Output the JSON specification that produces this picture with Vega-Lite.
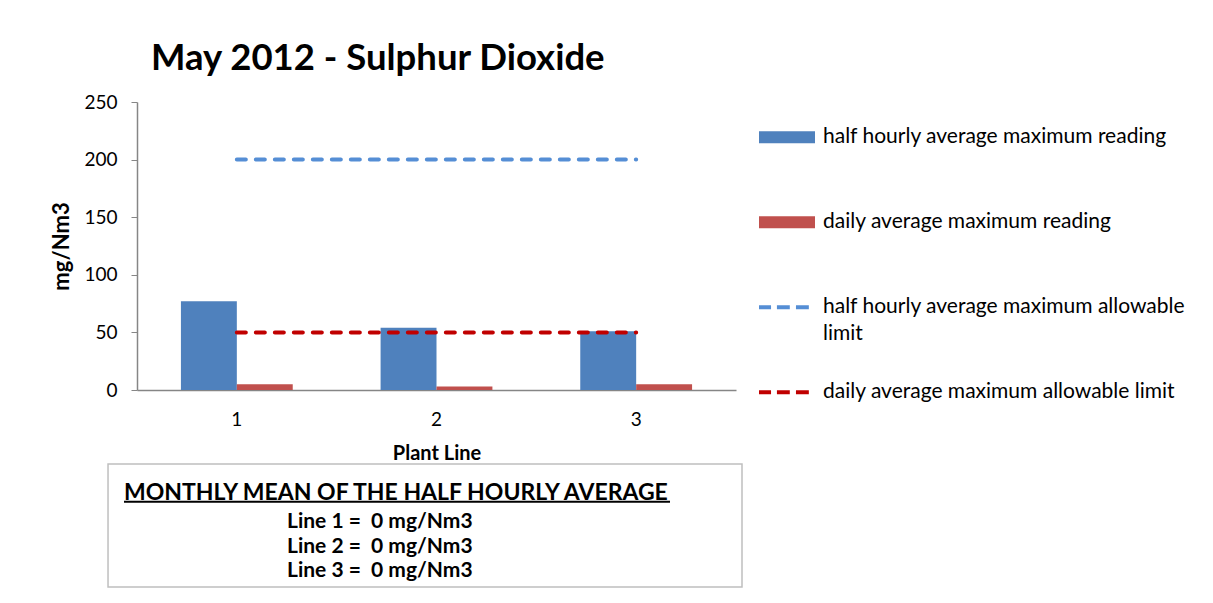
{
  "$schema": "https://vega.github.io/schema/vega-lite/v6.json",
  "background": "white",
  "padding": {"left": 50, "top": 40, "right": 0, "bottom": 0},
  "autosize": {"type": "pad"},
  "config": {
    "font": "Lato",
    "view": {"stroke": null},
    "axis": {"labelColor": "black", "titleColor": "black", "labelFont": "Lato", "titleFont": "Lato"},
    "legend": {"labelFont": "Lato"}
  },
  "datasets": {
    "readings": [
      {"line": "1", "series": "half hourly average maximum reading", "value": 77},
      {"line": "2", "series": "half hourly average maximum reading", "value": 54},
      {"line": "3", "series": "half hourly average maximum reading", "value": 51},
      {"line": "1", "series": "daily average maximum reading", "value": 5},
      {"line": "2", "series": "daily average maximum reading", "value": 3},
      {"line": "3", "series": "daily average maximum reading", "value": 5},
      {"line": "1", "series": "half hourly average maximum allowable limit", "value": 200},
      {"line": "2", "series": "half hourly average maximum allowable limit", "value": 200},
      {"line": "3", "series": "half hourly average maximum allowable limit", "value": 200},
      {"line": "1", "series": "daily average maximum allowable limit", "value": 50},
      {"line": "2", "series": "daily average maximum allowable limit", "value": 50},
      {"line": "3", "series": "daily average maximum allowable limit", "value": 50}
    ],
    "notes": [
      {"row": "h", "text": "MONTHLY MEAN OF THE HALF HOURLY AVERAGE"},
      {"row": "1", "text": "Line 1 = \u00a00 mg/Nm3"},
      {"row": "2", "text": "Line 2 = \u00a00 mg/Nm3"},
      {"row": "3", "text": "Line 3 = \u00a00 mg/Nm3"}
    ]
  },
  "align": "none",
  "spacing": 0,
  "vconcat": [
    {
      "width": 599,
      "height": 288,
      "title": {"text": "May 2012 - Sulphur Dioxide", "anchor": "start", "frame": "group", "dx": 14, "fontSize": 36.5, "font": "Lato", "fontWeight": "bold", "color": "black", "baseline": "alphabetic", "offset": -13},
      "data": {"name": "readings"},
      "encoding": {
        "x": {"field": "line", "type": "nominal", "scale": {"paddingInner": 0.44, "paddingOuter": 0.22},
          "axis": {"title": "Plant Line", "labelAngle": 0, "ticks": false, "domainColor": "#868686", "domainWidth": 1.5, "labelFontSize": 19, "labelPadding": 20, "titleFontSize": 20, "titleFontWeight": "bold", "titlePadding": 14}},
        "y": {"field": "value", "type": "quantitative", "scale": {"domain": [0, 250]},
          "axis": {"title": "mg/Nm3", "values": [0, 50, 100, 150, 200, 250], "grid": false, "tickSize": 6, "tickColor": "#868686", "domainColor": "#868686", "domainWidth": 1.5, "labelFontSize": 19, "labelPadding": 14, "titleFontSize": 22, "titleFontWeight": "bold", "titlePadding": 10}},
        "color": {"field": "series", "type": "nominal",
          "scale": {"domain": ["half hourly average maximum reading", "daily average maximum reading", "half hourly average maximum allowable limit", "daily average maximum allowable limit"], "range": ["#4F81BD", "#C0504D", "#558ED5", "#C00000"]},
          "legend": {
            "orient": "none", "legendX": 622, "legendY": -7, "title": null, "direction": "vertical",
            "symbolSize": 3136, "labelFontSize": 21, "labelColor": "black", "labelLimit": 500, "labelOffset": 8, "rowPadding": 0, "padding": 0,
            "clipHeight": 84.5,
            "symbolOpacity": 1,
            "labelExpr": "datum.label == 'half hourly average maximum allowable limit' ? ['half hourly average maximum allowable', 'limit'] : datum.label",
            "encode": {
              "symbols": {"update": {
                "shape": {"signal": "indexof(datum.value, 'limit') >= 0 ? 'M-1.03,-0.07H-0.57V0.07H-1.03Z M-0.36,-0.07H0.1V0.07H-0.36Z M0.32,-0.07H0.78V0.07H0.32Z' : 'M-1,-0.21H1V0.21H-1Z'"},
                "fill": {"scale": "color", "field": "value"},
                "stroke": {"value": "transparent"},
                "strokeWidth": {"value": 0}
              }},
              "labels": {"update": {
                "lineHeight": {"value": 27}
              }}
            }
          }
        }
      },
      "layer": [
        {
          "transform": [{"filter": "indexof(datum.series, 'limit') < 0"}],
          "mark": {"type": "bar"},
          "encoding": {
            "xOffset": {"field": "series", "type": "nominal", "sort": ["half hourly average maximum reading", "daily average maximum reading"], "scale": {"paddingInner": 0, "paddingOuter": 0}}
          }
        },
        {
          "transform": [{"filter": "indexof(datum.series, 'limit') >= 0"}],
          "mark": {"type": "line", "strokeWidth": 4, "strokeDash": [9, 10], "strokeCap": "round"},
          "encoding": {"detail": {"field": "series"}}
        }
      ]
    },
    {
      "width": 605,
      "height": 123,
      "data": {"name": "notes"},
      "layer": [
        {
          "transform": [{"filter": "datum.row == 'h'"}],
          "mark": {"type": "rect", "filled": false, "color": "#BFBFBF", "strokeWidth": 1.5},
          "encoding": {
            "x": {"datum": -4.79, "type": "quantitative", "scale": {"domain": [0, 100]}, "axis": null},
            "x2": {"datum": 100},
            "y": {"value": 0},
            "y2": {"value": "height"}
          }
        },
        {
          "transform": [{"filter": "datum.row == 'h'"}],
          "mark": {"type": "text", "align": "left", "baseline": "middle", "fontSize": 23, "fontWeight": "bold", "color": "black", "dy": -4},
          "encoding": {
            "x": {"datum": -2.15, "type": "quantitative"},
            "y": {"field": "row", "type": "ordinal", "scale": {"type": "point", "domain": ["h", "1", "2", "3"], "padding": 1.01, "align": 0.677}, "axis": null},
            "text": {"field": "text"}
          }
        },
        {
          "transform": [{"filter": "datum.row != 'h'"}],
          "mark": {"type": "text", "align": "left", "baseline": "middle", "fontSize": 21, "fontWeight": "bold", "color": "black"},
          "encoding": {
            "x": {"datum": 24.79, "type": "quantitative"},
            "y": {"field": "row", "type": "ordinal"},
            "text": {"field": "text"}
          }
        },
        {
          "transform": [{"filter": "datum.row == 'h'"}],
          "mark": {"type": "rule", "strokeWidth": 2, "color": "black", "yOffset": 4.5},
          "encoding": {
            "x": {"datum": -2.15, "type": "quantitative"},
            "x2": {"datum": 88.1},
            "y": {"field": "row", "type": "ordinal"}
          }
        }
      ]
    }
  ]
}
